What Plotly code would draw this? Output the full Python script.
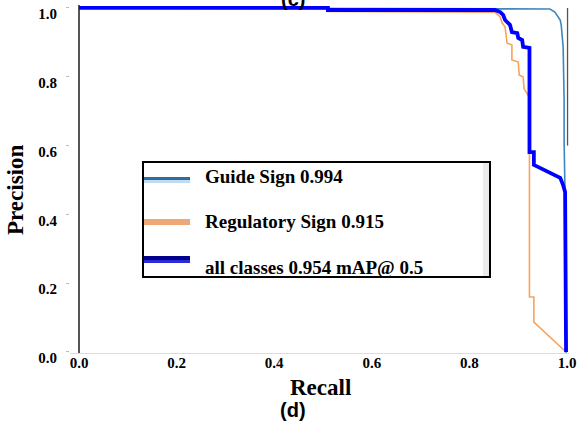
import plotly.graph_objects as go

# ---- data ----
guide_recall = [0.0, 0.965, 0.975, 0.986, 0.988, 0.992, 0.994, 0.994, 0.996, 0.997, 1.0]
guide_prec   = [1.0, 0.997, 0.988, 0.965, 0.951, 0.887, 0.733, 0.610, 0.450, 0.0, 0.0]

reg_recall = [0.0, 0.51, 0.51, 0.852, 0.863, 0.867, 0.873, 0.877, 0.887, 0.887, 0.900,
              0.902, 0.910, 0.912, 0.923, 0.923, 0.932, 0.932, 0.998]
reg_prec   = [1.0, 1.0, 0.990, 0.988, 0.974, 0.956, 0.945, 0.898, 0.892, 0.849, 0.843,
              0.805, 0.799, 0.765, 0.740, 0.160, 0.160, 0.087, 0.0]

all_recall = [0.0, 0.51, 0.51, 0.852, 0.863, 0.869, 0.873, 0.883, 0.887, 0.898, 0.900,
              0.908, 0.910, 0.920, 0.923, 0.923, 0.932, 0.932, 0.955, 0.975, 0.986,
              0.992, 0.996, 0.998]
all_prec   = [1.0, 1.0, 0.994, 0.994, 0.988, 0.980, 0.965, 0.951, 0.930, 0.927, 0.913,
              0.907, 0.887, 0.884, 0.884, 0.581, 0.581, 0.544, 0.529, 0.515, 0.506,
              0.485, 0.465, 0.0]

legend_labels = ["Guide Sign 0.994", "Regulatory Sign 0.915", "all classes 0.954 mAP@ 0.5"]
tick_vals = [0.0, 0.2, 0.4, 0.6, 0.8, 1.0]
tick_text = ["0.0", "0.2", "0.4", "0.6", "0.8", "1.0"]

# ---- layout geometry ----
W, H = 579, 432
L, R, T, B = 70, 10, 5, 79
PW, PH = W - L - R, H - T - B


def px(x):
    return (x - L) / PW


def py(y):
    return (T + PH - y) / PH


SERIF = "Liberation Serif"

fig = go.Figure()
fig.add_trace(go.Scatter(x=guide_recall, y=guide_prec, mode="lines",
                         line=dict(color="#3f86bf", width=1.6), name=legend_labels[0],
                         showlegend=False, hoverinfo="skip"))
fig.add_trace(go.Scatter(x=reg_recall, y=reg_prec, mode="lines",
                         line=dict(color="#f7a35c", width=1.6), name=legend_labels[1],
                         showlegend=False, hoverinfo="skip"))
fig.add_trace(go.Scatter(x=all_recall, y=all_prec, mode="lines",
                         line=dict(color="#0000ff", width=3.8), name=legend_labels[2],
                         showlegend=False, hoverinfo="skip"))

shapes = []
# right frame fragment
shapes.append(dict(type="line", xref="x", yref="y", x0=1.001, x1=1.001, y0=0.6, y1=1.0,
                   line=dict(color="#555555", width=1.3)))
# legend box
shapes.append(dict(type="rect", xref="paper", yref="paper", x0=px(483), x1=px(489),
                   y0=py(277), y1=py(163), fillcolor="#ebebeb", line=dict(width=0)))
shapes.append(dict(type="rect", xref="paper", yref="paper", x0=px(143), x1=px(490),
                   y0=py(277), y1=py(162), line=dict(color="black", width=2)))
# legend samples
samples = [
    (177, 180, "#336b99"), (180, 183, "#c3dbef"),
    (219, 225, "#eca876"),
    (256, 260, "#00008b"), (260, 263, "#2a2ad6"),
]
for y0, y1, c in samples:
    shapes.append(dict(type="rect", xref="paper", yref="paper", x0=px(144), x1=px(190),
                       y0=py(y1), y1=py(y0), fillcolor=c, line=dict(width=0)))

annotations = []
for txt, yc in zip(legend_labels, [176, 221, 267]):
    annotations.append(dict(text=txt, xref="paper", yref="paper", x=px(203), y=py(yc),
                            xanchor="left", yanchor="middle", showarrow=False,
                            font=dict(family=SERIF, size=19, color="black", weight="bold")))
annotations.append(dict(text="Recall", xref="paper", yref="paper", x=px(320), y=py(387),
                        xanchor="center", yanchor="middle", showarrow=False,
                        font=dict(family=SERIF, size=23, color="black", weight="bold")))
annotations.append(dict(text="Precision", xref="paper", yref="paper", x=px(16), y=py(190),
                        xanchor="center", yanchor="middle", showarrow=False, textangle=-90,
                        font=dict(family=SERIF, size=23, color="black", weight="bold")))
annotations.append(dict(text="(d)", xref="paper", yref="paper", x=px(293), y=py(410),
                        xanchor="center", yanchor="middle", showarrow=False,
                        font=dict(family="Liberation Sans", size=20,
                                  color="black", weight="bold")))
annotations.append(dict(text="(c)", xref="paper", yref="paper", x=px(293), y=py(5),
                        xanchor="center", yanchor="bottom", showarrow=False, yshift=-7,
                        font=dict(family="Liberation Sans", size=20,
                                  color="black", weight="bold")))

fig.update_layout(
    width=W, height=H,
    margin=dict(l=L, r=R, t=T, b=B, pad=0, autoexpand=False),
    paper_bgcolor="white", plot_bgcolor="white",
    shapes=shapes, annotations=annotations,
    showlegend=False, hovermode=False,
    xaxis=dict(range=[-0.0185, 1.004], tickvals=tick_vals, ticktext=tick_text,
               automargin=False, fixedrange=True,
               showgrid=False, zeroline=True, zerolinecolor="#555555", zerolinewidth=2,
               showline=True, linecolor="#dddddd", linewidth=1, ticks="",
               ticklabelstandoff=-4,
               tickfont=dict(family=SERIF, size=15, color="black", weight="bold")),
    yaxis=dict(range=[-0.003, 1.0086], tickvals=tick_vals, ticktext=tick_text,
               automargin=False, fixedrange=True,
               showgrid=False, zeroline=False, showline=False,
               ticks="outside", ticklen=3, tickcolor="#bbbbbb", tickwidth=1,
               ticklabelshift=6, ticklabelstandoff=6,
               tickfont=dict(family=SERIF, size=15, color="black", weight="bold")),
)

fig.write_html("out.html", config={"displayModeBar": False},
               post_script="document.body.style.margin='0';document.body.style.overflow='hidden';")
